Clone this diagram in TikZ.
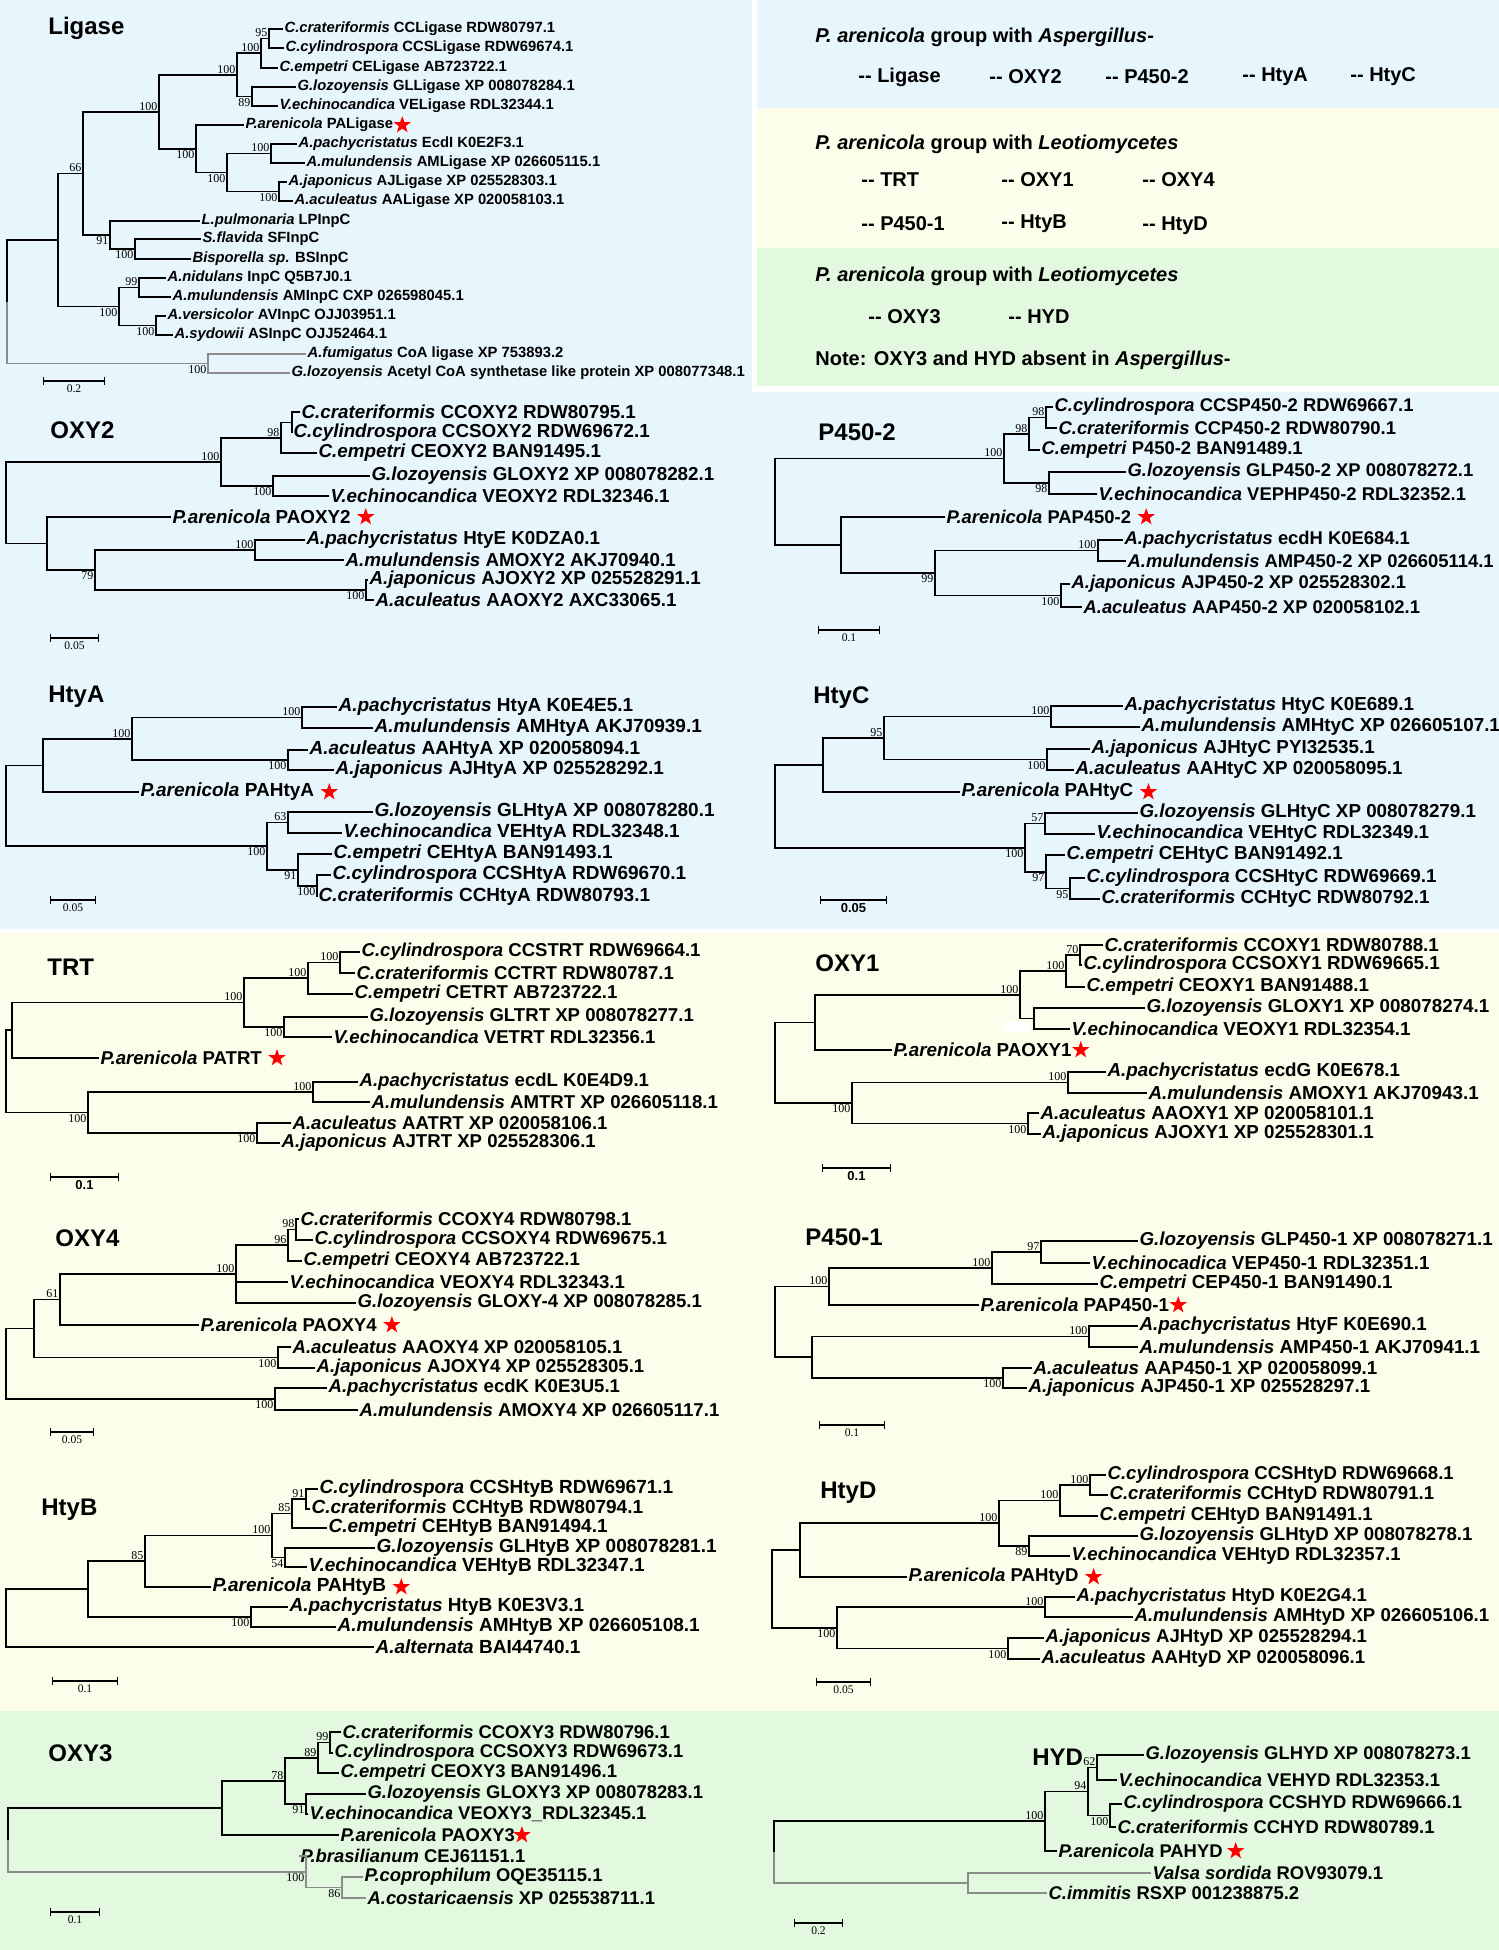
\documentclass[tikz,border=0pt]{standalone}
\usepackage{fontspec}
\newfontfamily\lf{Liberation Sans}
\newfontfamily\bsf{Liberation Serif}
\usetikzlibrary{positioning,shapes.geometric,arrows.meta}
\definecolor{bgblue}{HTML}{E7F6FC}
\definecolor{bgyel}{HTML}{FDFDEC}
\definecolor{bggrn}{HTML}{E2F9E0}

\begin{document}
\begin{tikzpicture}[x=0.5pt,y=-0.5pt,
    br/.style={line width=0.85pt},
    brg/.style={br, draw=black!45},
    lab/.style={anchor=west, inner xsep=0.6pt, inner ysep=0pt},
    ttl/.style={anchor=west, inner sep=0pt, font=\lf\bfseries\fontsize{12}{14}\selectfont},
    bsnum/.style={font=\bsf\fontsize{6}{6}\selectfont, inner sep=0.6pt},
    bsa/.style={label={[bsnum]above left:#1}},
    bsb/.style={label={[bsnum]below left:#1}},
    pstar/.style={star, star points=5, star point ratio=2.5, fill=red, inner sep=0pt, minimum size=9pt},
    sbar/.style={line width=0.7pt, {Bar[width=4pt]}-{Bar[width=4pt]}},
    scl/.style={below, inner sep=1.5pt, font=\bsf\fontsize{5.8}{6}\selectfont},
    sclb/.style={below, inner sep=1.5pt, font=\lf\bfseries\fontsize{6.5}{7}\selectfont},
    leg/.style={anchor=west, inner sep=0pt, font=\lf\bfseries\fontsize{10}{12}\selectfont}]

    \useasboundingbox (0,0) rectangle (1499,1950);

    % --- backgrounds ---
    \fill[bgblue] (0,0) rectangle (1499,930);
    \fill[bgyel] (757,108) rectangle (1499,248);
    \fill[bggrn] (757,248) rectangle (1499,386);
    \fill[white] (752,0) rectangle (757,392);
    \fill[white] (752,386) rectangle (1499,392);
    \fill[white] (0,929) rectangle (1499,933);
    \fill[bgyel] (0,933) rectangle (1499,1711);
    \fill[bggrn] (0,1711) rectangle (1499,1950);

    % --- legend ---
    \node[leg] (lt1) at (815,37) {\textit{P. arenicola} group with \textit{Aspergillus}-};
    \node[leg] (le1) at (858,77) {-{}- Ligase};
    \node[leg] (le2) at (989,77) {-{}- OXY2};
    \node[leg] (le3) at (1105,77) {-{}- P450-2};
    \node[leg] (le4) at (1242,77) {-{}- HtyA};
    \node[leg] (le5) at (1350,77) {-{}- HtyC};
    \node[leg] (lt2) at (815,144) {\textit{P. arenicola} group with \textit{Leotiomycetes}};
    \node[leg] (le6) at (861,180) {-{}- TRT};
    \node[leg] (le7) at (1001,180) {-{}- OXY1};
    \node[leg] (le8) at (1142,180) {-{}- OXY4};
    \node[leg] (le9) at (861,224) {-{}- P450-1};
    \node[leg] (le10) at (1001,224) {-{}- HtyB};
    \node[leg] (le11) at (1142,226) {-{}- HtyD};
    \node[leg] (lt3) at (815,276) {\textit{P. arenicola} group with \textit{Leotiomycetes}};
    \node[leg] (le12) at (868,317) {-{}- OXY3};
    \node[leg] (le13) at (1008,317) {-{}- HYD};
    \node[leg] (lnote) at (815,360) {Note: OXY3 and HYD absent in \textit{Aspergillus}-};

    % --- Ligase ---
    \begin{scope}[font=\lf\bfseries\fontsize{7.4}{8}\selectfont]
        \node[ttl] (lgt) at (48,28) {Ligase};
        \node[lab] (lg1) at (283,29) {\textit{C.crateriformis} CCLigase RDW80797.1};
        \node[lab] (lg2) at (284,48) {\textit{C.cylindrospora} CCSLigase RDW69674.1};
        \node[lab] (lg3) at (278,68) {\textit{C.empetri} CELigase AB723722.1};
        \node[lab] (lg4) at (296,87) {\textit{G.lozoyensis} GLLigase XP 008078284.1};
        \node[lab] (lg5) at (278,106) {\textit{V.echinocandica} VELigase RDL32344.1};
        \node[lab] (lg6) at (244,125) {\textit{P.arenicola} PALigase};
        \node[lab] (lg7) at (297,144) {\textit{A.pachycristatus} EcdI K0E2F3.1};
        \node[lab] (lg8) at (305,163) {\textit{A.mulundensis} AMLigase XP 026605115.1};
        \node[lab] (lg9) at (287,182) {\textit{A.japonicus} AJLigase XP 025528303.1};
        \node[lab] (lg10) at (293,201) {\textit{A.aculeatus} AALigase XP 020058103.1};
        \node[lab] (lg11) at (200,221) {\textit{L.pulmonaria} LPInpC};
        \node[lab] (lg12) at (201,239) {\textit{S.flavida} SFInpC};
        \node[lab] (lg13) at (191,259) {\textit{Bisporella sp.} BSInpC};
        \node[lab] (lg14) at (166,278) {\textit{A.nidulans} InpC Q5B7J0.1};
        \node[lab] (lg15) at (171,297) {\textit{A.mulundensis} AMInpC CXP 026598045.1};
        \node[lab] (lg16) at (166,316) {\textit{A.versicolor} AVInpC OJJ03951.1};
        \node[lab] (lg17) at (173,335) {\textit{A.sydowii} ASInpC OJJ52464.1};
        \node[lab] (lg18) at (306,354) {\textit{A.fumigatus} CoA ligase XP 753893.2};
        \node[lab] (lg19) at (290,373) {\textit{G.lozoyensis} Acetyl CoA synthetase like protein XP 008077348.1};
        \node[pstar, right=1pt of lg6] (lgst) {};
        \coordinate[bsa=95] (lga) at (269,38.5);
        \coordinate[bsa=100] (lgb) at (261,53);
        \coordinate[bsb=89] (lgc) at (252,96.5);
        \coordinate[bsa=100] (lgd) at (237,75);
        \coordinate[bsa=100] (lge) at (271,153.5);
        \coordinate[bsb=100] (lgf) at (279,191.5);
        \coordinate[bsb=100] (lgg) at (227,172.5);
        \coordinate[bsb=100] (lgh) at (196,149);
        \coordinate[bsa=100] (lgi) at (159,112);
        \coordinate[bsb=100] (lgj) at (135,249);
        \coordinate[bsb=91] (lgk) at (110,235);
        \coordinate[bsa=66] (lgl) at (83,173.5);
        \coordinate[bsa=99] (lgm) at (139,287.5);
        \coordinate[bsb=100] (lgn) at (156,325.5);
        \coordinate[bsb=100] (lgo) at (119,306.5);
        \coordinate (lgp) at (58,240);
        \coordinate[bsb=100] (lgq) at (208,363.5);
        \coordinate (lgr) at (7,302);
        \foreach \p/\c in {lga/lg1, lga/lg2, lgb/lga, lgb/lg3, lgc/lg4, lgc/lg5, lgd/lgb, lgd/lgc,
            lge/lg7, lge/lg8, lgf/lg9, lgf/lg10, lgg/lge, lgg/lgf, lgh/lg6, lgh/lgg, lgi/lgd, lgi/lgh,
            lgj/lg12, lgj/lg13, lgk/lg11, lgk/lgj, lgl/lgi, lgl/lgk, lgm/lg14, lgm/lg15, lgn/lg16, lgn/lg17,
            lgo/lgm, lgo/lgn, lgp/lgl, lgp/lgo, lgr/lgp}
            \draw[br] (\p) |- (\c);
        \foreach \p/\c in {lgr/lgq, lgq/lg18, lgq/lg19}
            \draw[brg] (\p) |- (\c);
        \draw[sbar] (43,381) -- (105,381) node[scl, midway] (lgsc) {0.2};
    \end{scope}

    % --- OXY2 ---
    \begin{scope}[font=\lf\bfseries\fontsize{9.4}{11}\selectfont]
        \node[ttl] (o2t) at (50,430) {OXY2};
        \node[lab] (o21) at (300,412) {\textit{C.crateriformis} CCOXY2 RDW80795.1};
        \node[lab] (o22) at (292,433) {\textit{C.cylindrospora} CCSOXY2 RDW69672.1};
        \node[lab] (o23) at (317,453) {\textit{C.empetri} CEOXY2 BAN91495.1};
        \node[lab] (o24) at (370,476) {\textit{G.lozoyensis} GLOXY2 XP 008078282.1};
        \node[lab] (o25) at (329,496) {\textit{V.echinocandica} VEOXY2 RDL32346.1};
        \node[lab] (o26) at (171,517) {\textit{P.arenicola} PAOXY2};
        \node[lab] (o27) at (305,540) {\textit{A.pachycristatus} HtyE K0DZA0.1};
        \node[lab] (o28) at (344,560) {\textit{A.mulundensis} AMOXY2 AKJ70940.1};
        \node[lab] (o29) at (368,580) {\textit{A.japonicus} AJOXY2 XP 025528291.1};
        \node[lab] (o210) at (374,600) {\textit{A.aculeatus} AAOXY2 AXC33065.1};
        \node[pstar, right=4pt of o26] (o2st) {};
        \coordinate (o2a) at (292,422.5);
        \coordinate[bsa=98] (o2b) at (281,438);
        \coordinate[bsb=100] (o2c) at (273,486);
        \coordinate[bsa=100] (o2d) at (221,462);
        \coordinate[bsa=100] (o2e) at (255,550);
        \coordinate[bsb=100] (o2f) at (366,590);
        \coordinate[bsb=79] (o2g) at (95,570);
        \coordinate (o2h) at (47,543.5);
        \coordinate (o2r) at (6,503);
        \foreach \p/\c in {o2a/o21, o2a/o22, o2b/o2a, o2b/o23, o2c/o24, o2c/o25, o2d/o2b, o2d/o2c,
            o2e/o27, o2e/o28, o2f/o29, o2f/o210, o2g/o2e, o2g/o2f, o2h/o26, o2h/o2g, o2r/o2d, o2r/o2h}
            \draw[br] (\p) |- (\c);
        \draw[sbar] (50,638) -- (99,638) node[scl, midway] (o2sc) {0.05};
    \end{scope}

    % --- P450-2 ---
    \begin{scope}[font=\lf\bfseries\fontsize{9.2}{11}\selectfont]
        \node[ttl] (p2t) at (818,432) {P450-2};
        \node[lab] (p21) at (1053,407) {\textit{C.cylindrospora} CCSP450-2 RDW69667.1};
        \node[lab] (p22) at (1057,428) {\textit{C.crateriformis} CCP450-2 RDW80790.1};
        \node[lab] (p23) at (1040,450) {\textit{C.empetri} P450-2 BAN91489.1};
        \node[lab] (p24) at (1126,472) {\textit{G.lozoyensis} GLP450-2 XP 008078272.1};
        \node[lab] (p25) at (1097,494) {\textit{V.echinocandica} VEPHP450-2 RDL32352.1};
        \node[lab] (p26) at (945,517) {\textit{P.arenicola} PAP450-2};
        \node[lab] (p27) at (1123,540) {\textit{A.pachycristatus} ecdH K0E684.1};
        \node[lab] (p28) at (1126,561) {\textit{A.mulundensis} AMP450-2 XP 026605114.1};
        \node[lab] (p29) at (1070,584) {\textit{A.japonicus} AJP450-2 XP 025528302.1};
        \node[lab] (p210) at (1082,607) {\textit{A.aculeatus} AAP450-2 XP 020058102.1};
        \node[pstar, right=4pt of p26] (p2st) {};
        \coordinate[bsa=98] (p2a) at (1046,417.5);
        \coordinate[bsa=98] (p2b) at (1029,434);
        \coordinate[bsb=98] (p2c) at (1049,483);
        \coordinate[bsa=100] (p2d) at (1004,458.5);
        \coordinate[bsa=100] (p2e) at (1098,550.5);
        \coordinate[bsb=100] (p2f) at (1061,595.5);
        \coordinate[bsb=99] (p2g) at (935,573);
        \coordinate (p2h) at (841,545);
        \coordinate (p2r) at (775,502);
        \foreach \p/\c in {p2a/p21, p2a/p22, p2b/p2a, p2b/p23, p2c/p24, p2c/p25, p2d/p2b, p2d/p2c,
            p2e/p27, p2e/p28, p2f/p29, p2f/p210, p2g/p2e, p2g/p2f, p2h/p26, p2h/p2g, p2r/p2d, p2r/p2h}
            \draw[br] (\p) |- (\c);
        \draw[sbar] (818,630) -- (880,630) node[scl, midway] (p2sc) {0.1};
    \end{scope}

    % --- HtyA ---
    \begin{scope}[font=\lf\bfseries\fontsize{9.5}{11}\selectfont]
        \node[ttl] (hat) at (48,697) {HtyA};
        \node[lab] (ha1) at (337,707) {\textit{A.pachycristatus} HtyA K0E4E5.1};
        \node[lab] (ha2) at (373,728) {\textit{A.mulundensis} AMHtyA AKJ70939.1};
        \node[lab] (ha3) at (308,750) {\textit{A.aculeatus} AAHtyA XP 020058094.1};
        \node[lab] (ha4) at (334,770) {\textit{A.japonicus} AJHtyA XP 025528292.1};
        \node[lab] (ha5) at (139,792) {\textit{P.arenicola} PAHtyA};
        \node[lab] (ha6) at (373,812) {\textit{G.lozoyensis} GLHtyA XP 008078280.1};
        \node[lab] (ha7) at (342,833) {\textit{V.echinocandica} VEHtyA RDL32348.1};
        \node[lab] (ha8) at (332,854) {\textit{C.empetri} CEHtyA BAN91493.1};
        \node[lab] (ha9) at (331,875) {\textit{C.cylindrospora} CCSHtyA RDW69670.1};
        \node[lab] (ha10) at (317,897) {\textit{C.crateriformis} CCHtyA RDW80793.1};
        \node[pstar, right=4pt of ha5] (hast) {};
        \coordinate[bsa=100] (haa) at (302,717.5);
        \coordinate[bsb=100] (hab) at (288,760);
        \coordinate[bsa=100] (hac) at (132,739);
        \coordinate (had) at (43,765.5);
        \coordinate[bsa=63] (hae) at (288,822.5);
        \coordinate[bsb=100] (haf) at (317,886);
        \coordinate[bsb=91] (hag) at (298,870);
        \coordinate[bsb=100] (hah) at (267,846);
        \coordinate (har) at (6,806);
        \foreach \p/\c in {haa/ha1, haa/ha2, hab/ha3, hab/ha4, hac/haa, hac/hab, had/hac, had/ha5,
            hae/ha6, hae/ha7, haf/ha9, haf/ha10, hag/ha8, hag/haf, hah/hae, hah/hag, har/had, har/hah}
            \draw[br] (\p) |- (\c);
        \draw[sbar] (50,900) -- (96,900) node[scl, midway] (hasc) {0.05};
    \end{scope}

    % --- HtyC ---
    \begin{scope}[font=\lf\bfseries\fontsize{9.4}{11}\selectfont]
        \node[ttl] (hct) at (813,698) {HtyC};
        \node[lab] (hc1) at (1123,706) {\textit{A.pachycristatus} HtyC K0E689.1};
        \node[lab] (hc2) at (1140,727) {\textit{A.mulundensis} AMHtyC XP 026605107.1};
        \node[lab] (hc3) at (1090,749) {\textit{A.japonicus} AJHtyC PYI32535.1};
        \node[lab] (hc4) at (1074,770) {\textit{A.aculeatus} AAHtyC XP 020058095.1};
        \node[lab] (hc5) at (960,792) {\textit{P.arenicola} PAHtyC};
        \node[lab] (hc6) at (1138,813) {\textit{G.lozoyensis} GLHtyC XP 008078279.1};
        \node[lab] (hc7) at (1095,834) {\textit{V.echinocandica} VEHtyC RDL32349.1};
        \node[lab] (hc8) at (1065,855) {\textit{C.empetri} CEHtyC BAN91492.1};
        \node[lab] (hc9) at (1085,878) {\textit{C.cylindrospora} CCSHtyC RDW69669.1};
        \node[lab] (hc10) at (1100,899) {\textit{C.crateriformis} CCHtyC RDW80792.1};
        \node[pstar, right=4pt of hc5] (hcst) {};
        \coordinate[bsa=100] (hca) at (1051,716.5);
        \coordinate[bsb=100] (hcb) at (1047,759.5);
        \coordinate[bsa=95] (hcc) at (884,738);
        \coordinate (hcd) at (823,765);
        \coordinate[bsa=57] (hce) at (1045,823.5);
        \coordinate[bsb=95] (hcf) at (1070,888.5);
        \coordinate[bsb=97] (hcg) at (1046,872);
        \coordinate[bsb=100] (hch) at (1025,848);
        \coordinate (hcr) at (775,806);
        \foreach \p/\c in {hca/hc1, hca/hc2, hcb/hc3, hcb/hc4, hcc/hca, hcc/hcb, hcd/hcc, hcd/hc5,
            hce/hc6, hce/hc7, hcf/hc9, hcf/hc10, hcg/hc8, hcg/hcf, hch/hce, hch/hcg, hcr/hcd, hcr/hch}
            \draw[br] (\p) |- (\c);
        \draw[sbar] (820,900) -- (887,900) node[sclb, midway] (hcsc) {0.05};
    \end{scope}

    % --- TRT ---
    \begin{scope}[font=\lf\bfseries\fontsize{9.3}{11}\selectfont]
        \node[ttl] (trt) at (47,967) {TRT};
        \node[lab] (tr1) at (360,952) {\textit{C.cylindrospora} CCSTRT RDW69664.1};
        \node[lab] (tr2) at (355,973) {\textit{C.crateriformis} CCTRT RDW80787.1};
        \node[lab] (tr3) at (353,994) {\textit{C.empetri} CETRT AB723722.1};
        \node[lab] (tr4) at (368,1017) {\textit{G.lozoyensis} GLTRT XP 008078277.1};
        \node[lab] (tr5) at (332,1037) {\textit{V.echinocandica} VETRT RDL32356.1};
        \node[lab] (tr6) at (99,1058) {\textit{P.arenicola} PATRT};
        \node[lab] (tr7) at (358,1082) {\textit{A.pachycristatus} ecdL K0E4D9.1};
        \node[lab] (tr8) at (370,1102) {\textit{A.mulundensis} AMTRT XP 026605118.1};
        \node[lab] (tr9) at (291,1123) {\textit{A.aculeatus} AATRT XP 020058106.1};
        \node[lab] (tr10) at (280,1143) {\textit{A.japonicus} AJTRT XP 025528306.1};
        \node[pstar, right=4pt of tr6] (trst) {};
        \coordinate[bsa=100] (tra) at (340,962.5);
        \coordinate[bsa=100] (trb) at (308,978);
        \coordinate[bsb=100] (trc) at (284,1027);
        \coordinate[bsa=100] (trd) at (244,1002.5);
        \coordinate (tre) at (12,1030);
        \coordinate[bsa=100] (trf) at (313,1092);
        \coordinate[bsb=100] (trg) at (257,1133);
        \coordinate[bsb=100] (trh) at (88,1112.5);
        \coordinate (trr) at (6,1071);
        \foreach \p/\c in {tra/tr1, tra/tr2, trb/tra, trb/tr3, trc/tr4, trc/tr5, trd/trb, trd/trc,
            tre/trd, tre/tr6, trf/tr7, trf/tr8, trg/tr9, trg/tr10, trh/trf, trh/trg, trr/tre, trr/trh}
            \draw[br] (\p) |- (\c);
        \draw[sbar] (50,1177) -- (119,1177) node[sclb, midway] (trsc) {0.1};
    \end{scope}

    % --- OXY1 ---
    \begin{scope}[font=\lf\bfseries\fontsize{9.4}{11}\selectfont]
        \node[ttl] (o1t) at (815,963) {OXY1};
        \node[lab] (o11) at (1103,945) {\textit{C.crateriformis} CCOXY1 RDW80788.1};
        \node[lab] (o12) at (1082,965) {\textit{C.cylindrospora} CCSOXY1 RDW69665.1};
        \node[lab] (o13) at (1085,987) {\textit{C.empetri} CEOXY1 BAN91488.1};
        \node[lab] (o14) at (1145,1008) {\textit{G.lozoyensis} GLOXY1 XP 008078274.1};
        \node[lab] (o15) at (1070,1029) {\textit{V.echinocandica} VEOXY1 RDL32354.1};
        \node[lab] (o16) at (892,1050) {\textit{P.arenicola} PAOXY1};
        \node[lab] (o17) at (1106,1072) {\textit{A.pachycristatus} ecdG K0E678.1};
        \node[lab] (o18) at (1147,1093) {\textit{A.mulundensis} AMOXY1 AKJ70943.1};
        \node[lab] (o19) at (1039,1113) {\textit{A.aculeatus} AAOXY1 XP 020058101.1};
        \node[lab] (o110) at (1041,1134) {\textit{A.japonicus} AJOXY1 XP 025528301.1};
        \node[pstar, right=1pt of o16] (o1st) {};
        \coordinate[bsa=70] (o1a) at (1080,955);
        \coordinate[bsa=100] (o1b) at (1066,971);
        \coordinate (o1c) at (1034,1018.5);
        \coordinate[bsa=100] (o1d) at (1020,995);
        \coordinate (o1e) at (815,1022.5);
        \coordinate[bsa=100] (o1f) at (1068,1082.5);
        \coordinate[bsb=100] (o1g) at (1028,1123.5);
        \coordinate[bsb=100] (o1h) at (852,1103);
        \coordinate (o1r) at (775,1063);
        \foreach \p/\c in {o1a/o11, o1a/o12, o1b/o1a, o1b/o13, o1c/o14, o1c/o15, o1d/o1b, o1d/o1c,
            o1e/o1d, o1e/o16, o1f/o17, o1f/o18, o1g/o19, o1g/o110, o1h/o1f, o1h/o1g, o1r/o1e, o1r/o1h}
            \draw[br] (\p) |- (\c);
        \fill[white] (1005,1022) rectangle (1030,1032);
        \draw[sbar] (822,1168) -- (891,1168) node[sclb, midway] (o1sc) {0.1};
    \end{scope}

    % --- OXY4 ---
    \begin{scope}[font=\lf\bfseries\fontsize{9.3}{11}\selectfont]
        \node[ttl] (o4t) at (55,1238) {OXY4};
        \node[lab] (o41) at (299,1219) {\textit{C.crateriformis} CCOXY4 RDW80798.1};
        \node[lab] (o42) at (313,1240) {\textit{C.cylindrospora} CCSOXY4 RDW69675.1};
        \node[lab] (o43) at (302,1261) {\textit{C.empetri} CEOXY4 AB723722.1};
        \node[lab] (o44) at (288,1282) {\textit{V.echinocandica} VEOXY4 RDL32343.1};
        \node[lab] (o45) at (356,1303) {\textit{G.lozoyensis} GLOXY-4 XP 008078285.1};
        \node[lab] (o46) at (199,1325) {\textit{P.arenicola} PAOXY4};
        \node[lab] (o47) at (291,1347) {\textit{A.aculeatus} AAOXY4 XP 020058105.1};
        \node[lab] (o48) at (315,1368) {\textit{A.japonicus} AJOXY4 XP 025528305.1};
        \node[lab] (o49) at (327,1388) {\textit{A.pachycristatus} ecdK K0E3U5.1};
        \node[lab] (o410) at (358,1410) {\textit{A.mulundensis} AMOXY4 XP 026605117.1};
        \node[pstar, right=4pt of o46] (o4st) {};
        \coordinate[bsa=98] (o4a) at (296,1229.5);
        \coordinate[bsa=96] (o4b) at (288,1245);
        \coordinate[bsa=100] (o4c) at (236,1274);
        \coordinate[bsa=61] (o4d) at (60,1299.5);
        \coordinate[bsb=100] (o4e) at (278,1357.5);
        \coordinate (o4f) at (34,1328.5);
        \coordinate[bsb=100] (o4g) at (275,1399);
        \coordinate (o4r) at (6,1364);
        \foreach \p/\c in {o4a/o41, o4a/o42, o4b/o4a, o4b/o43, o4c/o4b, o4c/o44, o4c/o45, o4d/o4c, o4d/o46,
            o4e/o47, o4e/o48, o4f/o4d, o4f/o4e, o4g/o49, o4g/o410, o4r/o4f, o4r/o4g}
            \draw[br] (\p) |- (\c);
        \draw[sbar] (50,1432) -- (94,1432) node[scl, midway] (o4sc) {0.05};
    \end{scope}

    % --- P450-1 ---
    \begin{scope}[font=\lf\bfseries\fontsize{9.4}{11}\selectfont]
        \node[ttl] (p1t) at (805,1237) {P450-1};
        \node[lab] (p11) at (1138,1241) {\textit{G.lozoyensis} GLP450-1 XP 008078271.1};
        \node[lab] (p12) at (1090,1263) {\textit{V.echinocadica} VEP450-1 RDL32351.1};
        \node[lab] (p13) at (1098,1284) {\textit{C.empetri} CEP450-1 BAN91490.1};
        \node[lab] (p14) at (979,1305) {\textit{P.arenicola} PAP450-1};
        \node[lab] (p15) at (1138,1326) {\textit{A.pachycristatus} HtyF K0E690.1};
        \node[lab] (p16) at (1138,1347) {\textit{A.mulundensis} AMP450-1 AKJ70941.1};
        \node[lab] (p17) at (1032,1368) {\textit{A.aculeatus} AAP450-1 XP 020058099.1};
        \node[lab] (p18) at (1027,1388) {\textit{A.japonicus} AJP450-1 XP 025528297.1};
        \node[pstar, right=1pt of p14] (p1st) {};
        \coordinate[bsa=97] (p1a) at (1041,1252);
        \coordinate[bsa=100] (p1b) at (992,1268);
        \coordinate[bsa=100] (p1c) at (829,1286.5);
        \coordinate[bsa=100] (p1d) at (1089,1336.5);
        \coordinate[bsb=100] (p1e) at (1003,1378);
        \coordinate (p1f) at (812,1357);
        \coordinate (p1r) at (775,1322);
        \foreach \p/\c in {p1a/p11, p1a/p12, p1b/p1a, p1b/p13, p1c/p1b, p1c/p14, p1d/p15, p1d/p16,
            p1e/p17, p1e/p18, p1f/p1d, p1f/p1e, p1r/p1c, p1r/p1f}
            \draw[br] (\p) |- (\c);
        \draw[sbar] (819,1425) -- (885,1425) node[scl, midway] (p1sc) {0.1};
    \end{scope}

    % --- HtyB ---
    \begin{scope}[font=\lf\bfseries\fontsize{9.5}{11}\selectfont]
        \node[ttl] (hbt) at (41,1510) {HtyB};
        \node[lab] (hb1) at (318,1489) {\textit{C.cylindrospora} CCSHtyB RDW69671.1};
        \node[lab] (hb2) at (310,1509) {\textit{C.crateriformis} CCHtyB RDW80794.1};
        \node[lab] (hb3) at (327,1528) {\textit{C.empetri} CEHtyB BAN91494.1};
        \node[lab] (hb4) at (375,1548) {\textit{G.lozoyensis} GLHtyB XP 008078281.1};
        \node[lab] (hb5) at (307,1567) {\textit{V.echinocandica} VEHtyB RDL32347.1};
        \node[lab] (hb6) at (211,1587) {\textit{P.arenicola} PAHtyB};
        \node[lab] (hb7) at (288,1607) {\textit{A.pachycristatus} HtyB K0E3V3.1};
        \node[lab] (hb8) at (336,1627) {\textit{A.mulundensis} AMHtyB XP 026605108.1};
        \node[lab] (hb9) at (374,1647) {\textit{A.alternata} BAI44740.1};
        \node[pstar, right=4pt of hb6] (hbst) {};
        \coordinate[bsa=91] (hba) at (306,1499);
        \coordinate[bsa=85] (hbb) at (292,1513.5);
        \coordinate[bsb=54] (hbc) at (285,1557.5);
        \coordinate[bsa=100] (hbd) at (272,1535.5);
        \coordinate[bsa=85] (hbe) at (145,1561);
        \coordinate[bsb=100] (hbf) at (251,1617);
        \coordinate (hbg) at (88,1589);
        \coordinate (hbr) at (6,1618);
        \foreach \p/\c in {hba/hb1, hba/hb2, hbb/hba, hbb/hb3, hbc/hb4, hbc/hb5, hbd/hbb, hbd/hbc,
            hbe/hbd, hbe/hb6, hbf/hb7, hbf/hb8, hbg/hbe, hbg/hbf, hbr/hbg, hbr/hb9}
            \draw[br] (\p) |- (\c);
        \draw[sbar] (52,1681) -- (118,1681) node[scl, midway] (hbsc) {0.1};
    \end{scope}

    % --- HtyD ---
    \begin{scope}[font=\lf\bfseries\fontsize{9.3}{11}\selectfont]
        \node[ttl] (hdt) at (820,1493) {HtyD};
        \node[lab] (hd1) at (1106,1475) {\textit{C.cylindrospora} CCSHtyD RDW69668.1};
        \node[lab] (hd2) at (1108,1495) {\textit{C.crateriformis} CCHtyD RDW80791.1};
        \node[lab] (hd3) at (1098,1516) {\textit{C.empetri} CEHtyD BAN91491.1};
        \node[lab] (hd4) at (1138,1536) {\textit{G.lozoyensis} GLHtyD XP 008078278.1};
        \node[lab] (hd5) at (1070,1556) {\textit{V.echinocandica} VEHtyD RDL32357.1};
        \node[lab] (hd6) at (907,1577) {\textit{P.arenicola} PAHtyD};
        \node[lab] (hd7) at (1075,1597) {\textit{A.pachycristatus} HtyD K0E2G4.1};
        \node[lab] (hd8) at (1133,1617) {\textit{A.mulundensis} AMHtyD XP 026605106.1};
        \node[lab] (hd9) at (1044,1638) {\textit{A.japonicus} AJHtyD XP 025528294.1};
        \node[lab] (hd10) at (1040,1659) {\textit{A.aculeatus} AAHtyD XP 020058096.1};
        \node[pstar, right=4pt of hd6] (hdst) {};
        \coordinate[bsa=100] (hda) at (1090,1485);
        \coordinate[bsa=100] (hdb) at (1060,1500.5);
        \coordinate[bsb=89] (hdc) at (1029,1546);
        \coordinate[bsa=100] (hdd) at (999,1523);
        \coordinate (hde) at (800,1550);
        \coordinate[bsa=100] (hdf) at (1045,1607);
        \coordinate[bsb=100] (hdg) at (1008,1648.5);
        \coordinate[bsb=100] (hdh) at (837,1628);
        \coordinate (hdr) at (772,1589);
        \foreach \p/\c in {hda/hd1, hda/hd2, hdb/hda, hdb/hd3, hdc/hd4, hdc/hd5, hdd/hdb, hdd/hdc,
            hde/hdd, hde/hd6, hdf/hd7, hdf/hd8, hdg/hd9, hdg/hd10, hdh/hdf, hdh/hdg, hdr/hde, hdr/hdh}
            \draw[br] (\p) |- (\c);
        \draw[sbar] (816,1682) -- (871,1682) node[scl, midway] (hdsc) {0.05};
    \end{scope}

    % --- OXY3 ---
    \begin{scope}[font=\lf\bfseries\fontsize{9.2}{11}\selectfont]
        \node[ttl] (o3t) at (48,1753) {OXY3};
        \node[lab] (o31) at (341,1732) {\textit{C.crateriformis} CCOXY3 RDW80796.1};
        \node[lab] (o32) at (333,1753) {\textit{C.cylindrospora} CCSOXY3 RDW69673.1};
        \node[lab] (o33) at (339,1773) {\textit{C.empetri} CEOXY3 BAN91496.1};
        \node[lab] (o34) at (366,1794) {\textit{G.lozoyensis} GLOXY3 XP 008078283.1};
        \node[lab] (o35) at (308,1814) {\textit{V.echinocandica} VEOXY3\_RDL32345.1};
        \node[lab] (o36) at (339,1835) {\textit{P.arenicola} PAOXY3};
        \node[lab] (o37) at (299,1856) {\textit{P.brasilianum} CEJ61151.1};
        \node[lab] (o38) at (363,1877) {\textit{P.coprophilum} OQE35115.1};
        \node[lab] (o39) at (366,1898) {\textit{A.costaricaensis} XP 025538711.1};
        \node[pstar, right=0pt of o36] (o3st) {};
        \coordinate[bsa=99] (o3a) at (330,1742.5);
        \coordinate[bsa=89] (o3b) at (318,1758);
        \coordinate[bsb=91] (o3c) at (306,1804);
        \coordinate[bsa=78] (o3d) at (285,1781);
        \coordinate (o3e) at (222,1808);
        \coordinate[bsb=86] (o3f) at (342,1887.5);
        \coordinate[bsb=100] (o3g) at (306,1872);
        \coordinate (o3r) at (8,1840);
        \foreach \p/\c in {o3a/o31, o3a/o32, o3b/o3a, o3b/o33, o3c/o34, o3c/o35, o3d/o3b, o3d/o3c,
            o3e/o3d, o3e/o36, o3r/o3e}
            \draw[br] (\p) |- (\c);
        \foreach \p/\c in {o3r/o3g, o3g/o37, o3g/o3f, o3f/o38, o3f/o39}
            \draw[brg] (\p) |- (\c);
        \draw[sbar] (50,1912) -- (100,1912) node[scl, midway] (o3sc) {0.1};
    \end{scope}

    % --- HYD ---
    \begin{scope}[font=\lf\bfseries\fontsize{9.2}{11}\selectfont]
        \node[ttl] (hyt) at (1032,1757) {HYD};
        \node[lab] (hy1) at (1144,1755) {\textit{G.lozoyensis} GLHYD XP 008078273.1};
        \node[lab] (hy2) at (1117,1780) {\textit{V.echinocandica} VEHYD RDL32353.1};
        \node[lab] (hy3) at (1122,1804) {\textit{C.cylindrospora} CCSHYD RDW69666.1};
        \node[lab] (hy4) at (1116,1827) {\textit{C.crateriformis} CCHYD RDW80789.1};
        \node[lab] (hy5) at (1057,1851) {\textit{P.arenicola} PAHYD};
        \node[lab] (hy6) at (1151,1873) {\textit{Valsa sordida} ROV93079.1};
        \node[lab] (hy7) at (1047,1893) {\textit{C.immitis} RSXP 001238875.2};
        \node[pstar, right=3pt of hy5] (hyst) {};
        \coordinate[bsa=62] (hya) at (1097,1767.5);
        \coordinate[bsb=100] (hyb) at (1110,1815.5);
        \coordinate[bsa=94] (hyc) at (1088,1791.5);
        \coordinate[bsa=100] (hyd) at (1045,1821);
        \coordinate (hye) at (968,1883);
        \coordinate (hyr) at (774,1852);
        \foreach \p/\c in {hya/hy1, hya/hy2, hyb/hy3, hyb/hy4, hyc/hya, hyc/hyb, hyd/hyc, hyd/hy5, hyr/hyd}
            \draw[br] (\p) |- (\c);
        \foreach \p/\c in {hyr/hye, hye/hy6, hye/hy7}
            \draw[brg] (\p) |- (\c);
        \draw[sbar] (794,1923) -- (843,1923) node[scl, midway] (hysc) {0.2};
    \end{scope}

\end{tikzpicture}
\end{document}
